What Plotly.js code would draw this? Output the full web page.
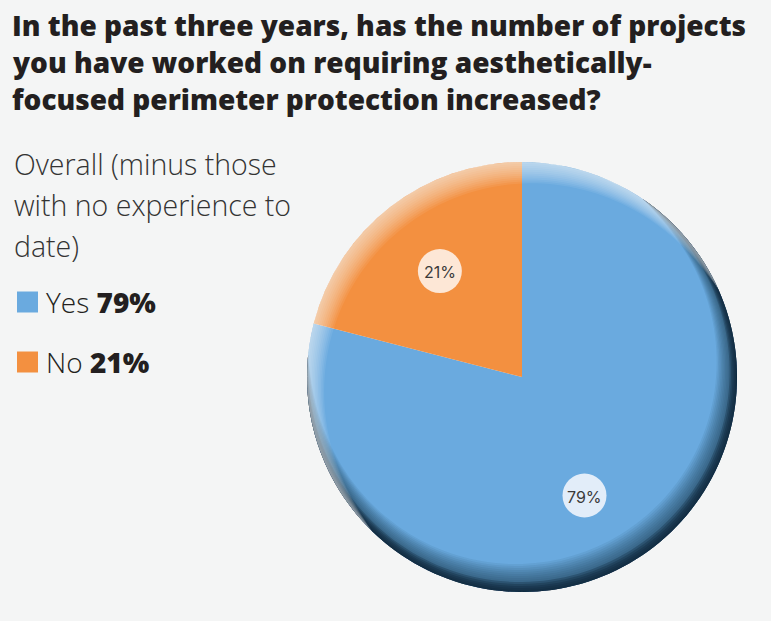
<!DOCTYPE html>
<html>
<head>
<meta charset="utf-8">
<script src="https://cdn.plot.ly/plotly-3.0.1.min.js"></script>
<style>html,body{margin:0;padding:0;background:#f4f5f5;}</style>
</head>
<body>
<div id="chart" style="width:771px;height:621px;"></div>
<script>
// ---- data ----
const labels = ['Yes', 'No'];
const values = [79, 21];
const valueText = ['79%', '21%'];
const titleLines = ['In the past three years, has the number of projects',
                    'you have worked on requiring aesthetically-',
                    'focused perimeter protection increased?'];
const subtitleLines = ['Overall (minus those', 'with no experience to', 'date)'];

// ---- style ----
const W = 771, H = 621;
const sliceColors = ['#6aaadf', '#f39040'];
const labelBg = ['#e2edf9', '#fde7d6'];
const cx = 522, cy = 377, R = 215;
const labelDist = 134;
const labelNudgeDeg = [10, 0];
const px = x => x / W;
const py = y => 1 - y / H;

const shapes = [];
const annotations = [];

// rim shading (decoration): radial bands with angular thickness profile
// angles in math convention, y up (pixel sizemode)
function band(dirDeg, spanDeg, maxT, color) {
  const a0 = dirDeg * Math.PI / 180;
  const c = Math.cos(spanDeg * Math.PI / 180);
  const n = 180;
  const outer = [], inner = [];
  for (let k = 0; k <= n; k++) {
    const a = 2 * Math.PI * k / n;
    const g = Math.max(0, (Math.cos(a - a0) - c) / (1 - c));
    const t = maxT * Math.pow(g, 0.7);
    outer.push([R * Math.cos(a), R * Math.sin(a)]);
    inner.push([(R - t) * Math.cos(a), (R - t) * Math.sin(a)]);
  }
  inner.reverse();
  const p = 'M' + outer.concat(inner).map(q => q[0].toFixed(2) + ',' + q[1].toFixed(2)).join('L') + 'Z';
  shapes.push({
    type: 'path', path: p, layer: 'above',
    xref: 'paper', yref: 'paper', xsizemode: 'pixel', ysizemode: 'pixel',
    xanchor: px(cx), yanchor: py(cy),
    fillcolor: color, line: {width: 0}
  });
}
// dark rim toward the bottom-right
for (let k = 1; k <= 14; k++) {
  const alpha = k <= 5 ? 0.32 : 0.07;
  band(-65, 120, 2.1 * k, 'rgba(18,38,62,' + alpha + ')');
}
// light rim toward the top-left
for (let k = 1; k <= 11; k++) {
  band(125, 100, 2.2 * k, 'rgba(255,255,255,0.07)');
}

// value labels in circles
const total = values.reduce((a, b) => a + b, 0);
let cum = 0;
values.forEach((v, i) => {
  const th = (360 * (cum + v / 2) / total + labelNudgeDeg[i]) * Math.PI / 180;
  cum += v;
  const lx = cx + labelDist * Math.sin(th);
  const ly = cy - labelDist * Math.cos(th);
  shapes.push({
    type: 'circle', layer: 'above',
    xref: 'paper', yref: 'paper', xsizemode: 'pixel', ysizemode: 'pixel',
    xanchor: px(lx), yanchor: py(ly), x0: -22, x1: 22, y0: -22, y1: 22,
    fillcolor: labelBg[i], line: {width: 0}
  });
  annotations.push({
    xref: 'paper', yref: 'paper', x: px(lx), y: py(ly + 1),
    xanchor: 'center', yanchor: 'middle', showarrow: false,
    text: valueText[i], font: {family: 'Inter, Lato, sans-serif', size: 16, color: '#3a3a3a'}
  });
});

// title
titleLines.forEach((t, i) => {
  annotations.push({
    xref: 'paper', yref: 'paper', x: px(10), y: py(25 + i * 37),
    xanchor: 'left', yanchor: 'middle', showarrow: false, text: t,
    font: {family: 'Open Sans, sans-serif', size: 28, color: '#231f20', weight: 800}
  });
});
// subtitle
subtitleLines.forEach((t, i) => {
  annotations.push({
    xref: 'paper', yref: 'paper', x: px(12), y: py(164 + i * 41),
    xanchor: 'left', yanchor: 'middle', showarrow: false, text: t,
    font: {family: 'Open Sans, sans-serif', size: 28.5, color: '#333333', weight: 300}
  });
});
// legend
labels.forEach((l, i) => {
  const yc = 302 + i * 60;
  shapes.push({
    type: 'rect', xref: 'paper', yref: 'paper',
    x0: px(17), x1: px(38), y0: py(yc - 10.5), y1: py(yc + 10.5),
    fillcolor: sliceColors[i], line: {width: 0}
  });
  annotations.push({
    xref: 'paper', yref: 'paper', x: px(44), y: py(yc),
    xanchor: 'left', yanchor: 'middle', showarrow: false,
    text: l + ' <span style="font-weight:800">' + valueText[i] + '</span>',
    font: {family: 'Open Sans, sans-serif', size: 28, color: '#231f20', weight: 300}
  });
});

const data = [{
  type: 'pie', labels: labels, values: values, sort: false,
  direction: 'clockwise', rotation: 0,
  marker: {colors: sliceColors, line: {width: 0}},
  textinfo: 'none', hoverinfo: 'label+percent',
  domain: {x: [px(cx - R), px(cx + R)], y: [py(cy + R), py(cy - R)]},
  showlegend: false
}];

const layout = {
  width: W, height: H,
  margin: {l: 0, r: 0, t: 0, b: 0},
  paper_bgcolor: '#f4f5f5', plot_bgcolor: '#f4f5f5',
  showlegend: false,
  shapes: shapes, annotations: annotations
};
Plotly.newPlot('chart', data, layout, {displayModeBar: false, staticPlot: true});
</script>
</body>
</html>
